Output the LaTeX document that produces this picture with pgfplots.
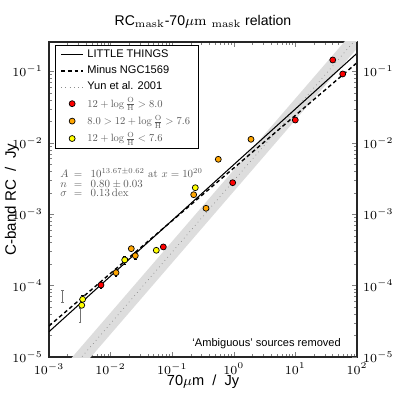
\documentclass[border=0pt]{standalone}
\usepackage{graphicx}
\usepackage{fontspec}
\setsansfont{Liberation Sans}
\usepackage{pgfplots}
\pgfplotsset{compat=1.18}
\definecolor{zred}{HTML}{FF0000}
\definecolor{zorange}{HTML}{FFA500}
\definecolor{zyellow}{HTML}{FFFF00}
\definecolor{zband}{HTML}{DDDDDD}
\pgfplotsset{
  myline/.style={legend image code/.code={\draw[##1] (0cm,0cm) -- (0.44cm,0cm);}},
  mymark/.style={legend image code/.code={\draw[##1] plot coordinates {(0.22cm,0cm)};}},
}
% math set at 10pt design size, then scaled (as in the reference)
\newcommand{\smath}[2][0.6]{\scalebox{#1}{\fontsize{10}{12}\selectfont$#2$}}
\newcommand{\OH}{\log\frac{\mathrm{O}}{\mathrm{H}}}
\begin{document}
\begin{tikzpicture}
\begin{axis}[scale only axis, width=6.16cm, height=6.3cm,
  xmode=log, ymode=log, xmin=1e-3, xmax=1e2, ymin=1e-5, ymax=0.258,
  tick align=inside, major tick length=0.11cm, minor tick length=0.06cm,
  tick label style={font=\fontsize{6.8}{8}\selectfont},
  axis line style={black!85, line width=0.6pt},
  yticklabel pos=left,
  title={\textsf{RC}$_{\mathrm{mask}}$\textsf{-70}$\mu\mathrm{m}_{\ \mathrm{mask}}$\textsf{ relation}},
  title style={at={(axis description cs:0.5,1.02)}, anchor=base, yshift=0pt, font=\fontsize{8}{9}\selectfont},
  ylabel={\textsf{C-band RC \ / \ Jy}},
  ylabel style={at={(axis description cs:-0.12,0.5)}, anchor=center, font=\fontsize{8.6}{9}\selectfont},
  xlabel={\textsf{70}$\mu$\textsf{m \ / \ Jy}},
  xlabel style={at={(axis description cs:0.5,-0.079)}, anchor=center, font=\fontsize{8.3}{9}\selectfont},
  legend style={at={(axis description cs:0.0195,0.990)}, anchor=north west,
    draw=black, line width=0.5pt, fill=white, font=\fontsize{6.3}{7.5}\selectfont,
    row sep=1.3pt, inner xsep=0.1cm, inner ysep=0.05cm, nodes={inner ysep=0.9pt}},
  legend cell align=left,
]
% legend entries
\addlegendimage{myline, black, line width=0.6pt}
\addlegendentry{\textsf{LITTLE THINGS}}
\addlegendimage{myline, black, line width=0.8pt, dash pattern=on 2.2pt off 1.6pt}
\addlegendentry{\textsf{Minus NGC1569}}
\addlegendimage{myline, black!45, line width=0.4pt, dotted}
\addlegendentry{\textsf{Yun et al. 2001}}
\addlegendimage{mymark, only marks, mark=*, mark size=1.7pt, mark options={fill=zred, draw=black, line width=0.4pt}}
\addlegendentry{\color{black!65}\smath{12+\OH>8.0}}
\addlegendimage{mymark, only marks, mark=*, mark size=1.7pt, mark options={fill=zorange, draw=black, line width=0.4pt}}
\addlegendentry{\color{black!65}\smath{8.0>12+\OH>7.6}}
\addlegendimage{mymark, only marks, mark=*, mark size=1.7pt, mark options={fill=zyellow, draw=black, line width=0.4pt}}
\addlegendentry{\color{black!65}\smath{12+\OH<7.6}}

% Yun et al. 2001 band and relation
\addplot[fill=zband, draw=none, forget plot] coordinates {(1e-3,2.09e-6) (1e2,0.209) (1e2,0.417) (1e-3,4.17e-6)} -- cycle;
\addplot[black!45, line width=0.4pt, dotted, forget plot] coordinates {(1e-3,2.95e-6) (1e2,0.295)};
% fits
\addplot[black, line width=0.6pt, forget plot] coordinates {(1e-3,2.26e-5) (1e2,0.1795)};
\addplot[black, line width=0.8pt, dash pattern=on 2.2pt off 1.6pt, forget plot] coordinates {(1e-3,2.72e-5) (1e2,0.1324)};

% limits
\addplot[draw=none, mark=none, forget plot,
  error bars/.cd, y dir=both, y explicit,
  error bar style={draw=black!55, line width=0.4pt},
  error mark options={draw=black!55, rotate=90, mark size=0.8pt}]
  coordinates {(1.67e-3,7.14e-5) +=(0,1.53e-5) -=(0,1.25e-5)
               (3.18e-3,3.89e-5) +=(0,0.96e-5) -=(0,0.80e-5)};

% data
\addplot[only marks, mark=*, mark size=1.7pt, mark options={fill=zorange, draw=black, line width=0.4pt}, forget plot,
  error bars/.cd, y dir=both, y explicit relative, error bar style={black, line width=0.4pt}, error mark options={black, rotate=90, mark size=0.8pt}]
  coordinates {
  (0.01225,1.517e-4) +- (0,0.12)
  (0.02168,3.29e-4) +- (0,0.0)
  (0.02518,2.62e-4) +- (0,0.12)
  (0.2234,1.875e-3) +- (0,0.0)
  (0.354,1.211e-3) +- (0,0.0)
  (0.560,5.87e-3) +- (0,0.0)
  (1.901,0.01119) +- (0,0.0)
  };
\addplot[only marks, mark=*, mark size=1.7pt, mark options={fill=zyellow, draw=black, line width=0.4pt}, forget plot,
  error bars/.cd, y dir=both, y explicit relative, error bar style={black, line width=0.4pt}, error mark options={black, rotate=90, mark size=0.8pt}]
  coordinates {
  (3.52e-3,6.43e-5) +- (0,0.15)
  (3.40e-3,5.30e-5) +- (0,0.0)
  (0.01694,2.29e-4) +- (0,0.12)
  (0.0552,3.12e-4) +- (0,0.0)
  (0.237,2.35e-3) +- (0,0.0)
  };
\addplot[only marks, mark=*, mark size=1.7pt, mark options={fill=zred, draw=black, line width=0.4pt}, forget plot,
  error bars/.cd, y dir=both, y explicit relative, error bar style={black, line width=0.4pt}, error mark options={black, rotate=90, mark size=0.8pt}]
  coordinates {
  (6.98e-3,1.019e-4) +- (0,0.1)
  (0.0718,3.48e-4) +- (0,0.0)
  (0.959,2.76e-3) +- (0,0.0)
  (9.95,0.02084) +- (0,0.0)
  (40.4,0.1445) +- (0,0.0)
  (58.6,0.0920) +- (0,0.0)
  };

\node[anchor=base west, inner sep=0pt, text=black!65] at (axis description cs:0.036,0.569)
  {\smath[0.62]{\makebox[0.95em][l]{$A$}=\enspace 10^{13.67\pm0.62}\ \mathrm{at}\ x=10^{20}}};
\node[anchor=base west, inner sep=0pt, text=black!65] at (axis description cs:0.036,0.537)
  {\smath[0.62]{\makebox[0.95em][l]{$n$}=\enspace 0.80\pm0.03}};
\node[anchor=base west, inner sep=0pt, text=black!65] at (axis description cs:0.036,0.509)
  {\smath[0.62]{\makebox[0.95em][l]{$\sigma$}=\enspace 0.13\,\mathrm{dex}}};
\node[anchor=base east, font=\fontsize{6.3}{7.5}\selectfont\sffamily]
  at (axis description cs:0.9675,0.032) {`Ambiguous' sources removed};
\end{axis}
\begin{axis}[scale only axis, width=6.16cm, height=6.3cm,
  xmode=log, ymode=log, xmin=1e-3, xmax=1e2, ymin=1e-5, ymax=0.258,
  tick align=inside, major tick length=0.11cm, minor tick length=0.06cm,
  tick label style={font=\fontsize{6.8}{8}\selectfont},
  axis line style={black!85, line width=0.6pt},
  hide x axis, axis y line*=right, yticklabel pos=right]
\end{axis}
\pgfresetboundingbox
\path (-0.98cm,-0.84cm) rectangle (7.0cm,7.14cm);
\end{tikzpicture}
\end{document}
